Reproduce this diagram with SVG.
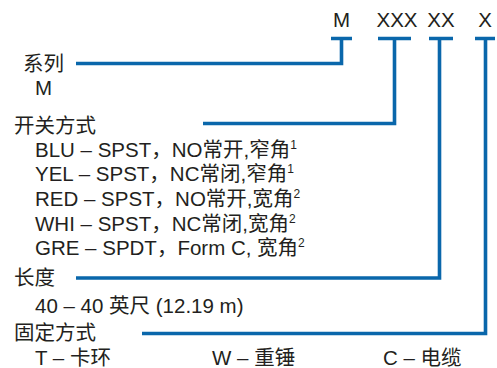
<svg xmlns="http://www.w3.org/2000/svg" width="497" height="368" viewBox="0 0 497 368">
  <style>
    text { font-family: "Liberation Sans", "Noto Sans CJK SC", sans-serif; font-size: 20.5px; fill: #231f20; }
    .mid { text-anchor: middle; }
    .sup { font-size: 12px; }
    .conn { fill: none; stroke: #0a67ab; stroke-width: 3.6; stroke-linejoin: miter; stroke-linecap: butt; }
  </style>
  <rect width="497" height="368" fill="#ffffff"/>
  <g id="header">
    <text class="mid" x="341.5" y="27">M</text>
    <text class="mid" x="397" y="27">XXX</text>
    <text class="mid" x="441" y="27">XX</text>
    <text class="mid" x="485" y="27">X</text>
  </g>
  <g id="connectors">
    <path class="conn" d="M331,38.5 H352 M341.5,38.5 V63.5 H76"/>
    <path class="conn" d="M378,38.5 H411 M394.5,38.5 V123.5 H203"/>
    <path class="conn" d="M429,38.5 H453 M439.5,38.5 V278 H76"/>
    <path class="conn" d="M475,38.5 H495 M485.5,38.5 V333.5 H142"/>
  </g>
  <g id="series">
    <text x="23" y="71">系列</text>
    <text x="35" y="95">M</text>
  </g>
  <g id="switch">
    <text x="14" y="133">开关方式</text>
    <text x="35" y="157">BLU – SPST，NO常开,窄角<tspan class="sup" dy="-8">1</tspan></text>
    <text x="35" y="181">YEL – SPST，NC常闭,窄角<tspan class="sup" dy="-8">1</tspan></text>
    <text x="35" y="206">RED – SPST，NO常开,宽角<tspan class="sup" dy="-8">2</tspan></text>
    <text x="35" y="231">WHI – SPST，NC常闭,宽角<tspan class="sup" dy="-8">2</tspan></text>
    <text x="35" y="255">GRE – SPDT，Form C, 宽角<tspan class="sup" dy="-8">2</tspan></text>
  </g>
  <g id="length">
    <text x="14" y="285">长度</text>
    <text x="35" y="313">40 – 40 英尺 (12.19 m)</text>
  </g>
  <g id="mount">
    <text x="14" y="340">固定方式</text>
    <text x="35" y="365">T – 卡环</text>
    <text x="212" y="365">W – 重锤</text>
    <text x="383" y="365">C – 电缆</text>
  </g>
</svg>
